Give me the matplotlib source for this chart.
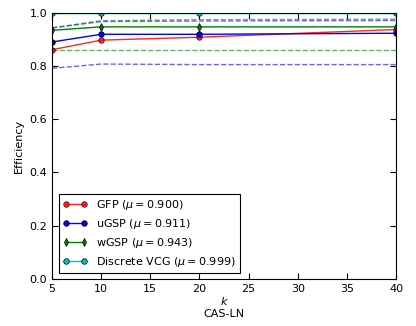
import matplotlib
matplotlib.use("Agg")
import matplotlib.pyplot as plt

k = [5, 10, 20, 40]

gfp = [0.862, 0.898, 0.909, 0.938]
ugsp = [0.891, 0.920, 0.920, 0.924]
wgsp = [0.935, 0.948, 0.948, 0.948]
vcg = [0.999, 0.999, 0.999, 0.999]

# spread bands (dashed)
wgsp_hi = [0.944, 0.971, 0.975, 0.977]
wgsp_lo = [0.862, 0.862, 0.862, 0.862]
ugsp_hi = [0.944, 0.968, 0.970, 0.972]
ugsp_lo = [0.792, 0.808, 0.806, 0.806]

labels = ["GFP ($\\mu=$0.900)", "uGSP ($\\mu=$0.911)",
          "wGSP ($\\mu=$0.943)", "Discrete VCG ($\\mu=$0.999)"]

plt.rcParams["font.size"] = 8
fig = plt.figure(figsize=(4.16, 3.26), dpi=100)
ax = fig.add_axes([0.125, 0.145, 0.827, 0.815])

ax.plot(k, ugsp_hi, "--", color="blue", alpha=0.6, lw=1)
ax.plot(k, ugsp_lo, "--", color="blue", alpha=0.6, lw=1)
ax.plot(k, wgsp_hi, "--", color="green", alpha=0.6, lw=1)
ax.plot(k, wgsp_lo, "--", color="green", alpha=0.6, lw=1)

style = dict(ms=4, mec="black", mew=0.5, lw=1)
ax.plot(k, gfp, "-o", color="red", alpha=0.85, label=labels[0], **style)
ax.plot(k, ugsp, "-o", color="blue", label=labels[1], **style)
ax.plot(k, wgsp, "-d", color="green", label=labels[2], **style)
ax.plot(k, vcg, "-o", color="c", label=labels[3], **style)

ax.set_xlim(5, 40)
ax.set_ylim(0.0, 1.0)
ax.set_xticks(range(5, 41, 5))
ax.set_yticks([0.0, 0.2, 0.4, 0.6, 0.8, 1.0])
ax.tick_params(direction="in", top=True, right=True, length=4)
ax.set_ylabel("Efficiency")
ax.set_xlabel("$k$", labelpad=1)
fig.text(0.538, 0.037, "CAS-LN", ha="center", va="center", fontsize=8)

leg = ax.legend(loc="lower left", numpoints=2, fancybox=False, framealpha=1,
                edgecolor="black", borderpad=0.35, labelspacing=0.45,
                handlelength=2.2, bbox_to_anchor=(0.005, 0.0))
leg.get_frame().set_linewidth(0.8)

fig.savefig("out.png", dpi=100)
